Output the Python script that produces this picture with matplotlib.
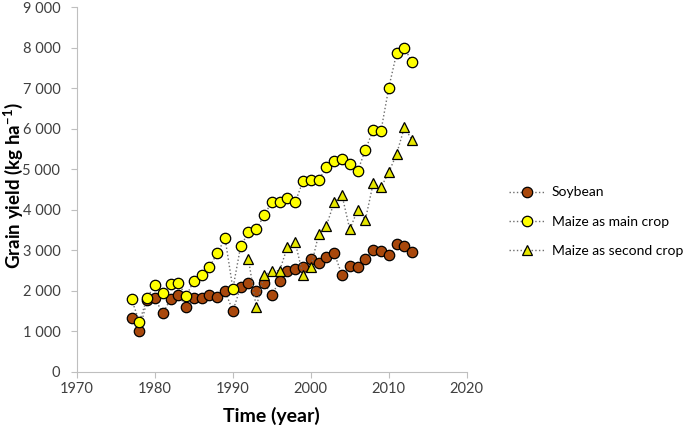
import numpy as np
import matplotlib
matplotlib.use("Agg")
import matplotlib.pyplot as plt
from matplotlib.ticker import FuncFormatter

plt.rcParams['font.family'] = ['Lato', 'DejaVu Sans']
plt.rcParams['mathtext.fontset'] = 'custom'
plt.rcParams['mathtext.rm'] = 'Lato'
plt.rcParams['mathtext.bf'] = 'Lato:bold'

# data
soy_years = list(range(1977, 2014))
soy_yield = [1317, 1004, 1770, 1810, 1440, 1794, 1893, 1605, 1827, 1827,
             1901, 1852, 1992, 1498, 2099, 2181, 1992, 2181, 1901, 2239,
             2494, 2527, 2584, 2790, 2691, 2840, 2930, 2387, 2617, 2576,
             2790, 3012, 2971, 2872, 3144, 3111, 2963]

main_years = list(range(1977, 2014))
main_yield = [1794, 1226, 1827, 2148, 1934, 2156, 2189, 1868, 2247, 2395,
              2593, 2930, 3292, 2049, 3103, 3440, 3514, 3860, 4198, 4189,
              4288, 4189, 4708, 4733, 4733, 5053, 5202, 5243, 5119, 4947,
              5481, 5967, 5942, 7012, 7860, 8000, 7646]

second_years = list(range(1992, 2014))
second_yield = [2774, 1588, 2379, 2494, 2494, 3086, 3193, 2379, 2576, 3391,
                3605, 4189, 4362, 3514, 3992, 3753, 4650, 4551, 4922, 5374,
                6033, 5720]

labels = ["Soybean", "Maize as main crop", "Maize as second crop"]

fig = plt.figure(figsize=(6.85, 4.32), dpi=100)
ax = fig.add_axes([77 / 685, 1 - 371.7 / 432, (466.7 - 77) / 685, (371.7 - 7.3) / 432])

line_kw = dict(linestyle=':', color='#6e6e6e', linewidth=1.0,
               markeredgecolor='black', markeredgewidth=0.9)
h1, = ax.plot(soy_years, soy_yield, marker='o', markersize=7.5,
              markerfacecolor='#a9480c', label=labels[0], **line_kw)
h2, = ax.plot(main_years, main_yield, marker='o', markersize=7.5,
              markerfacecolor='#ffff00', label=labels[1], **line_kw)
h3, = ax.plot(second_years, second_yield, marker='^', markersize=7,
              markerfacecolor='#e6e600', label=labels[2], **line_kw)

ax.set_xlim(1970, 2020)
ax.set_ylim(0, 9000)
ax.set_xticks(np.arange(1970, 2021, 10))
ax.set_yticks(np.arange(0, 9001, 1000))
ax.yaxis.set_major_formatter(FuncFormatter(lambda v, p: f"{int(v):,}".replace(",", " ")))

for s in ['top', 'right']:
    ax.spines[s].set_visible(False)
for s in ['left', 'bottom']:
    ax.spines[s].set_color('#bfbfbf')
ax.tick_params(axis='both', colors='#bfbfbf', labelcolor='#404040',
               labelsize=10.5, length=4, width=0.8)
ax.tick_params(axis='y', pad=8)

ax.set_xlabel("Time (year)", fontsize=14, fontweight='bold', labelpad=8)
ax.set_ylabel("Grain yield (kg ha$^{\\mathbf{-1}}$)", fontsize=13.5, fontweight='bold')
ax.yaxis.set_label_coords(-52 / 390, 0.51)

fig.legend(handles=[h1, h2, h3], loc='upper left',
           bbox_to_anchor=(496 / 685, 1 - 174 / 432), frameon=False,
           fontsize=10, labelspacing=1.25, handlelength=2.6, handletextpad=0.5)

fig.savefig("out.png", dpi=100)
